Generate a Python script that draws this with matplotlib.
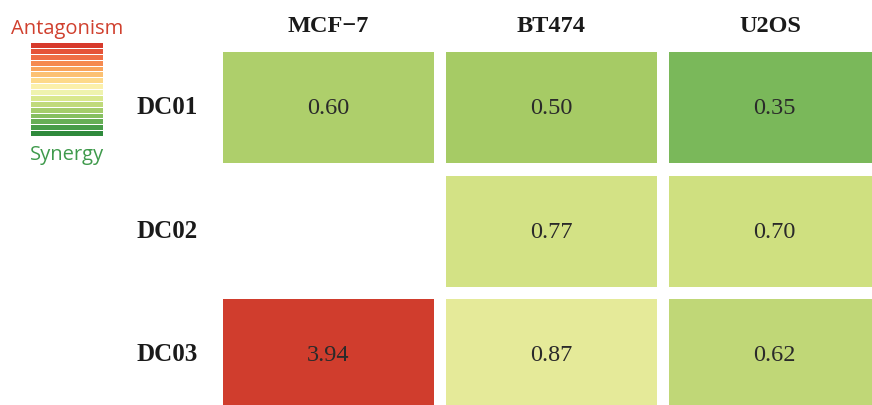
import numpy as np
import matplotlib
matplotlib.use("Agg")
import matplotlib.pyplot as plt
from matplotlib.patches import Rectangle
from matplotlib.colors import LinearSegmentedColormap, Normalize

# ---- data ----
cell_lines = ["MCF\u22127", "BT474", "U2OS"]
compounds = ["DC01", "DC02", "DC03"]
ci_dc01 = [0.60, 0.50, 0.35]
ci_dc02 = [np.nan, 0.77, 0.70]
ci_dc03 = [3.94, 0.87, 0.62]
values = np.array([ci_dc01, ci_dc02, ci_dc03])

# colour scale (synergy green -> antagonism red)
anchor_vals = [0.0, 0.35, 0.50, 0.60, 0.62, 0.70, 0.77, 0.87, 1.0, 1.6, 2.6, 4.0]
anchor_cols = ["#2e8b3e", "#7ab85a", "#a6cb65", "#aecf6b", "#c2d878", "#cfe080",
               "#d3e285", "#e5ea99", "#fbf3b3", "#fdc273", "#ee7a4a", "#cf3a2c"]
vmax = 4.0
cmap = LinearSegmentedColormap.from_list(
    "ci", list(zip([v / vmax for v in anchor_vals], anchor_cols)), N=1024)
norm = Normalize(vmin=0, vmax=vmax)

legend_cols = ["#d73a2c", "#e55338", "#ef6e45", "#f58a50", "#f9a45c", "#fcc173",
               "#fdd98a", "#fbf0ab", "#eff3ae", "#d9e88d", "#c0da7b", "#a4cd6b",
               "#86bf60", "#66ae55", "#479c48", "#2f8a3c"]

W, H = 872, 405
fig = plt.figure(figsize=(W / 100, H / 100), dpi=100)
ax = fig.add_axes([0, 0, 1, 1])
ax.set_xlim(0, W)
ax.set_ylim(H, 0)
ax.axis("off")

x0, y0 = 223, 52
cw, ch = 211, 111
px, py = 223, 123.5

serif = ["Liberation Serif", "DejaVu Serif"]
sans = ["Open Sans", "DejaVu Sans"]

for i, row in enumerate(values):
    for j, v in enumerate(row):
        if np.isnan(v):
            continue
        x = x0 + j * px
        y = y0 + i * py
        ax.add_patch(Rectangle((x, y), cw, ch, facecolor=cmap(norm(v)),
                               edgecolor="none"))
        ax.text(x + cw / 2, y + ch / 2 + 1, f"{v:.2f}", ha="center",
                va="center", fontsize=17.5, family=serif, color="#2a2a2a")

for j, name in enumerate(cell_lines):
    xc = x0 + j * px + cw / 2 if j < 2 else x0 + j * px + 101
    ax.text(xc, 27, name, ha="center", va="center", fontsize=17.5,
            fontweight="bold", family=serif, color="#1a1a1a")

for i, name in enumerate(compounds):
    ax.text(136, y0 + i * py + ch / 2, name, ha="left", va="center",
            fontsize=18, fontweight="bold", family=serif, color="#1a1a1a")

# legend
lx, ly, lw = 31, 43, 72
n = len(legend_cols)
step = 94 / n
for k, c in enumerate(legend_cols):
    ax.add_patch(Rectangle((lx, ly + k * step), lw, step - 1.0,
                           facecolor=c, edgecolor="none"))
ax.text(lx + lw / 2, 29, "Antagonism", ha="center", va="center",
        fontsize=14.5, family=sans, color="#d0402e")
ax.text(lx + lw / 2, 155, "Synergy", ha="center", va="center",
        fontsize=14.5, family=sans, color="#3f9a4c")

fig.savefig("out.png", dpi=100)
